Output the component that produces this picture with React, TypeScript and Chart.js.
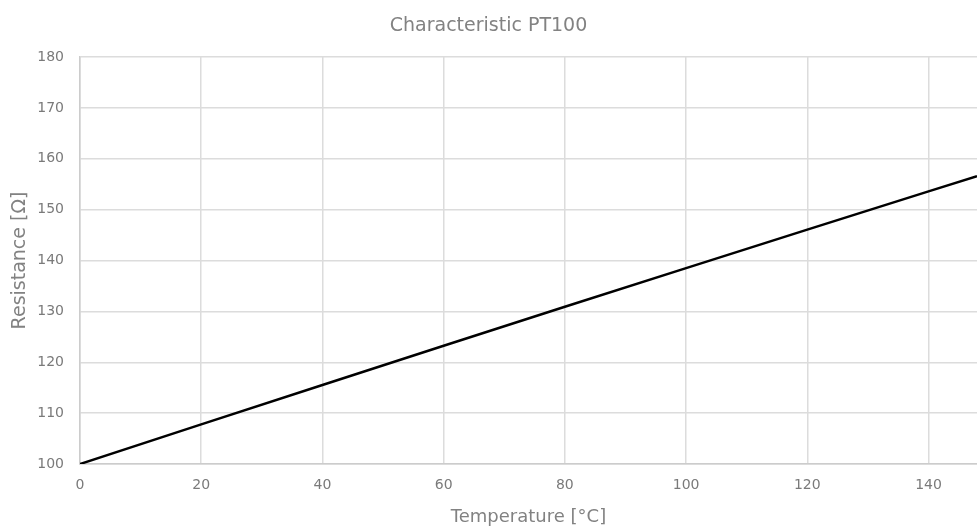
import React, { useEffect, useRef } from "react";
import { Chart, registerables } from "chart.js";

Chart.register(...registerables);

const temperatures = [0, 20, 40, 60, 80, 100, 120, 140, 148];
const resistances = [100, 107.79, 115.54, 123.24, 130.9, 138.51, 146.07, 153.58, 156.57];
const titleText = "Characteristic PT100";
const xTitle = "Temperature [°C]";
const yTitle = "Resistance [Ω]";

export default function App() {
  const ref = useRef<HTMLCanvasElement | null>(null);
  useEffect(() => {
    if (!ref.current) return;
    const font = "'DejaVu Sans', 'Open Sans', sans-serif";
    const chart = new Chart(ref.current, {
      type: "line",
      data: {
        datasets: [
          {
            data: temperatures.map((t, i) => ({ x: t, y: resistances[i] })),
            borderColor: "#000000",
            borderWidth: 2.5,
            pointRadius: 0,
            fill: false,
            tension: 0,
          },
        ],
      },
      options: {
        animation: false,
        responsive: false,
        maintainAspectRatio: false,
        layout: { padding: 0 },
        plugins: {
          legend: { display: false },
          tooltip: { enabled: false },
          title: {
            display: true,
            text: titleText,
            color: "#828282",
            font: { family: font, size: 19, weight: "normal" },
            padding: { top: 14.5, bottom: 19.7 },
          },
        },
        scales: {
          x: {
            type: "linear",
            min: 0,
            max: 148,
            afterFit: (s: any) => {
              s.height = 66;
            },
            ticks: {
              stepSize: 20,
              includeBounds: false,
              color: "#7a7a7a",
              padding: 13,
              font: { family: font, size: 14 },
            },
            grid: { color: "#dcdcdc", lineWidth: 1.5, drawTicks: false },
            border: { color: "#cccccc", width: 1.5 },
            title: {
              display: true,
              text: xTitle,
              color: "#828282",
              font: { family: font, size: 18 },
              padding: { top: 4, bottom: 2 },
            },
          },
          y: {
            type: "linear",
            min: 100,
            max: 180,
            afterFit: (s: any) => {
              s.width = 80;
            },
            ticks: {
              stepSize: 10,
              color: "#7a7a7a",
              padding: 16,
              font: { family: font, size: 14 },
            },
            grid: { color: "#dcdcdc", lineWidth: 1.5, drawTicks: false },
            border: { color: "#cccccc", width: 1.5 },
            title: {
              display: true,
              text: yTitle,
              color: "#828282",
              font: { family: font, size: 19 },
              padding: { top: 9, bottom: 4 },
            },
          },
        },
      },
    });
    return () => chart.destroy();
  }, []);
  return (
    <div style={{ position: "absolute", left: 0, top: 0, width: 977, height: 530, background: "#ffffff" }}>
      <canvas ref={ref} width={977} height={530} style={{ display: "block", width: 977, height: 530 }} />
    </div>
  );
}
